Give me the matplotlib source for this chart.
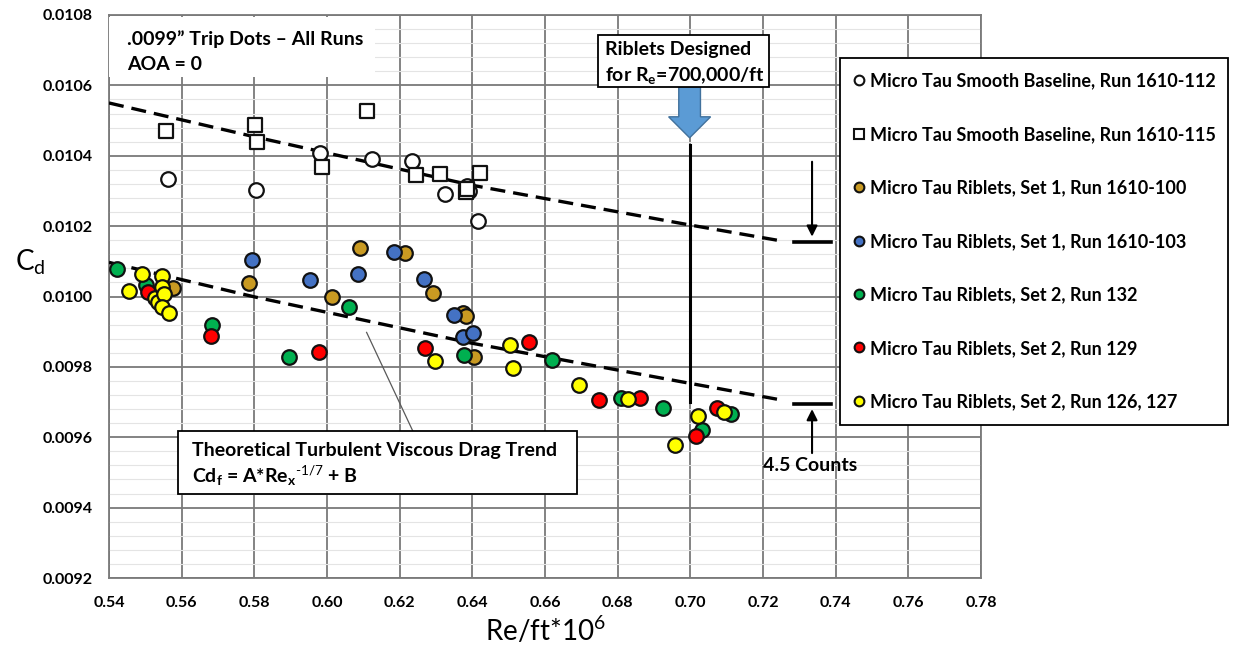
import matplotlib.pyplot as plt
from matplotlib.lines import Line2D
from matplotlib.patches import FancyArrow, Rectangle
from matplotlib.ticker import MultipleLocator

plt.rcParams['font.family'] = ['Lato', 'DejaVu Sans']
plt.rcParams['mathtext.fontset'] = 'custom'
plt.rcParams['mathtext.rm'] = 'Lato'
plt.rcParams['mathtext.default'] = 'regular'

W, H = 1233, 652

# ---- values ----
smooth112_x = [0.5563, 0.5804, 0.5980, 0.6123, 0.6234, 0.6326, 0.6385, 0.6390, 0.6416]
smooth112_y = [0.010333, 0.010302, 0.010407, 0.010392, 0.010386, 0.010291, 0.010314, 0.010300, 0.010215]

smooth115_x = [0.5556, 0.5802, 0.5806, 0.5987, 0.6109, 0.6244, 0.6312, 0.6382, 0.6385, 0.6421]
smooth115_y = [0.010471, 0.010487, 0.010440, 0.010367, 0.010528, 0.010345, 0.010348, 0.010297, 0.010305, 0.010351]

set1_100_x = [0.5575, 0.5786, 0.6013, 0.6092, 0.6216, 0.6292, 0.6373, 0.6382, 0.6404]
set1_100_y = [0.010025, 0.010039, 0.009999, 0.010137, 0.010125, 0.010011, 0.009954, 0.009944, 0.009829]

set1_103_x = [0.5793, 0.5953, 0.6086, 0.6184, 0.6267, 0.6350, 0.6375, 0.6402]
set1_103_y = [0.010105, 0.010047, 0.010064, 0.010127, 0.010051, 0.009947, 0.009886, 0.009897]

set2_132_x = [0.5423, 0.5503, 0.5684, 0.5896, 0.6061, 0.6377, 0.6619, 0.6810, 0.6925, 0.7033, 0.7113]
set2_132_y = [0.010078, 0.010032, 0.009918, 0.009829, 0.009971, 0.009834, 0.009819, 0.009712, 0.009682, 0.009620, 0.009666]

set2_129_x = [0.5508, 0.5681, 0.5979, 0.6269, 0.6555, 0.6749, 0.6861, 0.7015, 0.7074]
set2_129_y = [0.010013, 0.009888, 0.009841, 0.009853, 0.009870, 0.009706, 0.009711, 0.009603, 0.009682]

set2_126_x = [0.5455, 0.5490, 0.5527, 0.5535, 0.5547, 0.5545, 0.5552, 0.5545, 0.5566,
              0.6297, 0.6505, 0.6512, 0.6693, 0.6829, 0.6959, 0.7021, 0.7092]
set2_126_y = [0.010016, 0.010064, 0.009996, 0.009985, 0.010059, 0.010026, 0.010007, 0.009971, 0.009954,
              0.009817, 0.009862, 0.009796, 0.009748, 0.009709, 0.009578, 0.009661, 0.009671]

# dashed trend curves
trend_x = [0.54, 0.58, 0.64, 0.70, 0.725]
trend_smooth = [0.010550, 0.010454, 0.010316, 0.010203, 0.010158]
trend_riblet = [0.010097, 0.009999, 0.009867, 0.009753, 0.009706]

# short level bars at the end of the trends
bar_x = [0.7285, 0.7388]
bar_smooth = 0.010155
bar_riblet = 0.009694

design_re = 0.70
design_span = [0.009701, 0.010430]

labels = ['Micro Tau Smooth Baseline, Run 1610-112',
          'Micro Tau Smooth Baseline, Run 1610-115',
          'Micro Tau Riblets, Set 1, Run 1610-100',
          'Micro Tau Riblets, Set 1, Run 1610-103',
          'Micro Tau Riblets, Set 2, Run 132',
          'Micro Tau Riblets, Set 2, Run 129',
          'Micro Tau Riblets, Set 2, Run 126, 127']

x_ticks = [0.54, 0.56, 0.58, 0.60, 0.62, 0.64, 0.66, 0.68, 0.70, 0.72, 0.74, 0.76, 0.78]
y_ticks = [0.0092, 0.0094, 0.0096, 0.0098, 0.0100, 0.0102, 0.0104, 0.0106, 0.0108]

GOLD, BLUE, GREEN, RED, YELLOW = '#C99A22', '#4472C4', '#00B050', '#FF0000', '#FFFF00'


def fpx(x, y):
    # pixel position (origin top-left) -> figure fraction
    return x / W, 1 - y / H


fig = plt.figure(figsize=(W / 100, H / 100), dpi=100)
ax = fig.add_axes([109 / W, 74 / H, 872 / W, 563 / H])
ax.set_xlim(0.54, 0.78)
ax.set_ylim(0.0092, 0.0108)
ax.set_xticks(x_ticks)
ax.set_xticklabels([f'{t:.2f}' for t in x_ticks], fontweight='bold')
ax.set_yticks(y_ticks)
ax.set_yticklabels([f'{t:.4f}' for t in y_ticks], fontweight='bold')
ax.yaxis.set_minor_locator(MultipleLocator(0.00004))
ax.grid(which='major', color='#7a7a7a', lw=1.3)
ax.grid(which='minor', axis='y', color='#e4e4e4', lw=0.8)
ax.tick_params(which='both', length=0)
ax.tick_params(axis='x', pad=13, labelsize=11.5)
ax.tick_params(axis='y', pad=12, labelsize=11.5)
for s in ax.spines.values():
    s.set_color('#7a7a7a')
    s.set_linewidth(1.3)
ax.set_axisbelow(True)

# trends, bars, design line
dash = (0, (4.5, 2.4))
ax.plot(trend_x, trend_smooth, ls=dash, color='black', lw=2.4, zorder=3)
ax.plot(trend_x, trend_riblet, ls=dash, color='black', lw=2.4, zorder=3)
ax.plot(bar_x, [bar_smooth, bar_smooth], color='black', lw=2.6, zorder=3)
ax.plot(bar_x, [bar_riblet, bar_riblet], color='black', lw=2.6, zorder=3)
ax.plot([design_re, design_re], design_span, color='black', lw=2.2, zorder=3)

arrow_kw = dict(arrowstyle='-|>', color='black', lw=1.5, mutation_scale=16, shrinkA=0, shrinkB=0)
ax.annotate('', xy=(0.7335, 0.010170), xytext=(0.7335, 0.010383), arrowprops=arrow_kw, zorder=3)
ax.annotate('', xy=(0.7335, 0.009680), xytext=(0.7335, 0.009555), arrowprops=arrow_kw, zorder=3)

ax.add_patch(FancyArrow(0.6998, 0.010596, 0, -0.000145, width=0.00597, head_width=0.01155,
                        head_length=0.0000597, length_includes_head=True,
                        fc='#5B9BD5', ec='#41719C', lw=1, zorder=4))

# leader line to the theory box
ax.plot([0.6109, 0.6236], [0.009898, 0.009618], color='#595959', lw=0.9, zorder=3)

# data series
common = dict(s=110, linewidths=1.6, edgecolors='#111111', zorder=5)
ax.scatter(smooth112_x, smooth112_y, marker='o', facecolors='white', **common)
ax.scatter(smooth115_x, smooth115_y, marker='s', facecolors='white', **common)
ax.scatter(set1_100_x, set1_100_y, marker='o', facecolors=GOLD, **common)
ax.scatter(set1_103_x, set1_103_y, marker='o', facecolors=BLUE, **common)
ax.scatter(set2_132_x, set2_132_y, marker='o', facecolors=GREEN, **common)
ax.scatter(set2_129_x, set2_129_y, marker='o', facecolors=RED, **common)
ax.scatter(set2_126_x, set2_126_y, marker='o', facecolors=YELLOW, **common)


# text boxes (figure pixel layout)
def box(x0, y0, x1, y1, ec):
    r = Rectangle(fpx(x0, y1), (x1 - x0) / W, (y1 - y0) / H, transform=fig.transFigure,
                  fc='white', ec=ec, lw=1.3, clip_on=False, zorder=6)
    ax.add_patch(r)


def label(x, y, s, size=14):
    ax.text(*fpx(x, y), s, transform=fig.transFigure, ha='left', va='baseline',
            fontsize=size, fontweight='bold', zorder=7)


box(109, 17, 375, 77, 'none')
label(127, 44.6, '.0099\u201d Trip Dots \u2013 All Runs')
label(127, 69.6, 'AOA = 0')

box(598, 35, 769, 87, 'black')
label(605, 54.6, 'Riblets Designed')
label(605, 81.3, 'for R$_e$=700,000/ft')

box(178, 431, 577, 494, 'black')
label(192, 456.3, 'Theoretical Turbulent Viscous Drag Trend')
label(192, 483, r'Cd$_f$ = A*Re$_x$$^{\text{-1/7}}$ + B')

label(763, 471.3, '4.5 Counts')

fig.text(*fpx(30, 262), 'C$_d$', fontsize=20, ha='center', va='center')
fig.text(*fpx(545, 630), 'Re/ft*10$^6$', fontsize=20, ha='center', va='center')

# legend
handle_kw = dict(ls='', marker='o', ms=7, mec='#111111', mew=1.5)
handles = [Line2D([], [], mfc='white', **handle_kw),
           Line2D([], [], ls='', marker='s', ms=7, mfc='white', mec='#111111', mew=1.5),
           Line2D([], [], mfc=GOLD, **handle_kw),
           Line2D([], [], mfc=BLUE, **handle_kw),
           Line2D([], [], mfc=GREEN, **handle_kw),
           Line2D([], [], mfc=RED, **handle_kw),
           Line2D([], [], mfc=YELLOW, **handle_kw)]
leg = ax.legend(handles, labels, loc='upper left',
                bbox_to_anchor=(840 / W, 1 - 425 / H, 388 / W, 367 / H),
                bbox_transform=fig.transFigure, mode='expand', borderaxespad=0,
                frameon=True, fancybox=False, edgecolor='black', framealpha=1,
                prop=dict(weight='bold', size=13), labelspacing=2.02,
                handlelength=0.45, handletextpad=0.42, borderpad=0.8)
leg.get_frame().set_linewidth(1.3)
leg.set_zorder(8)

fig.savefig('out.png', dpi=100)
